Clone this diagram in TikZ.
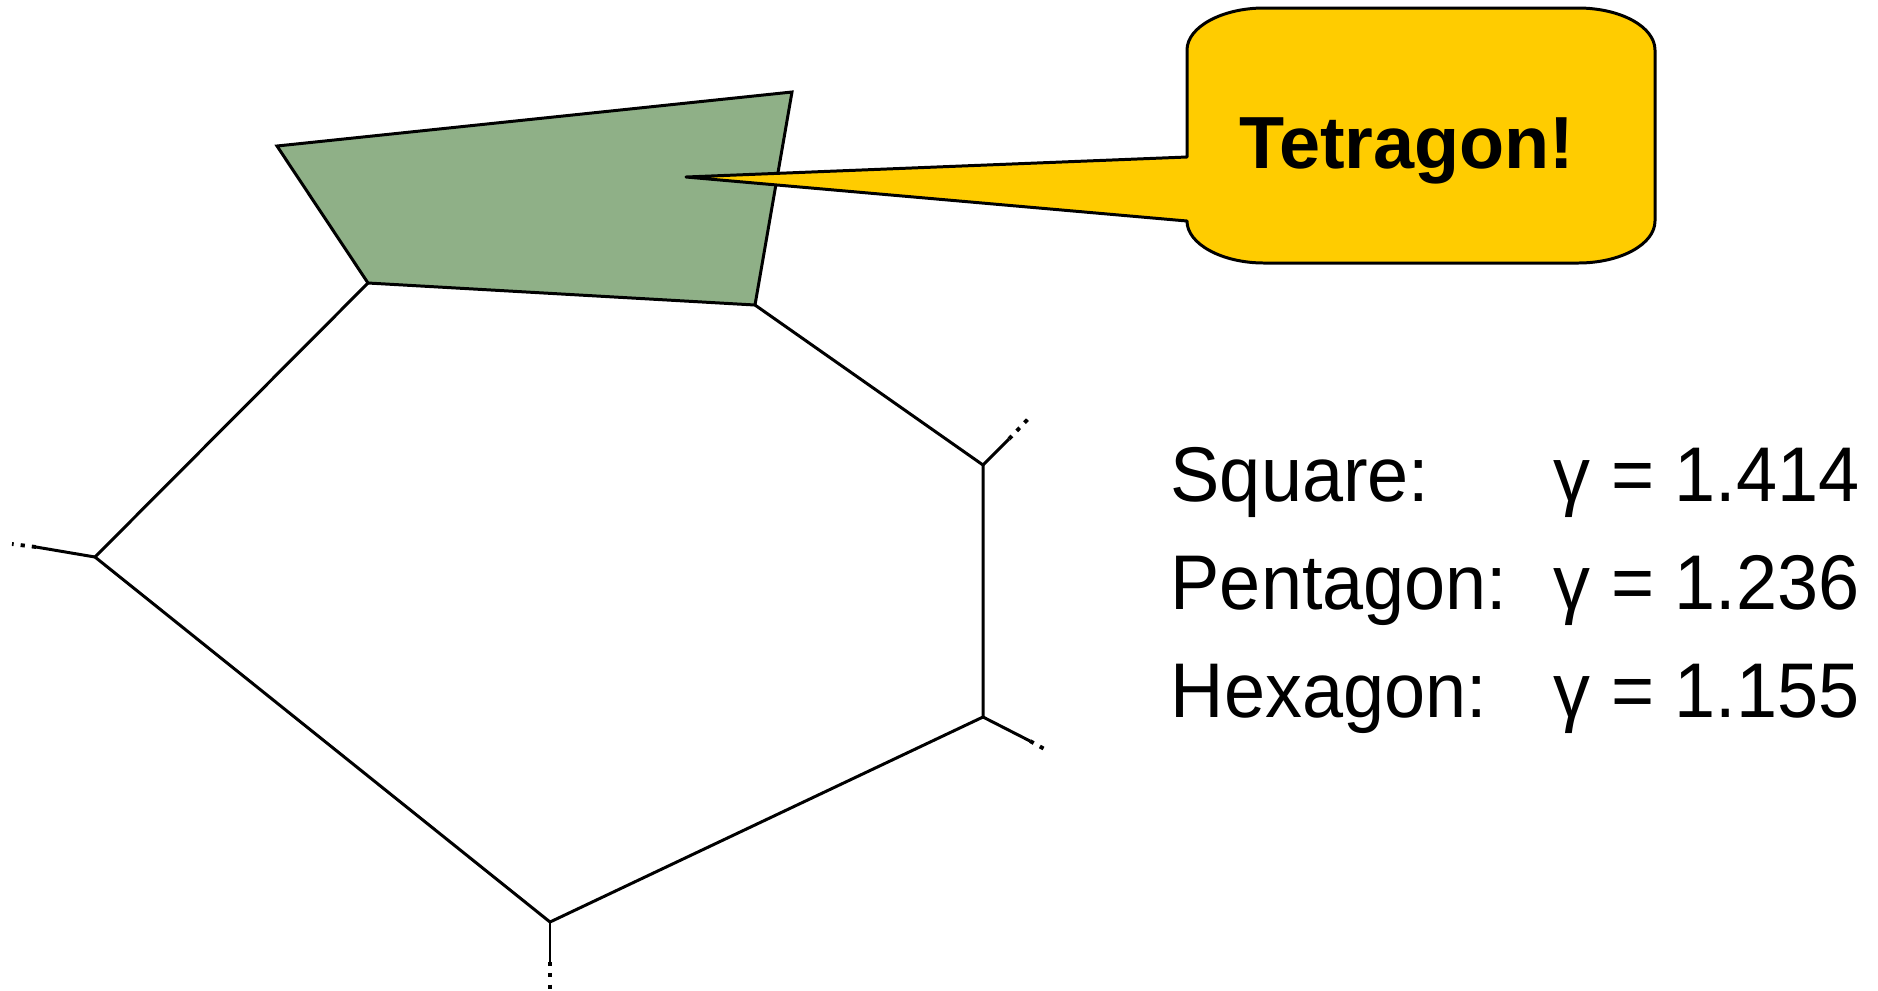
\documentclass[tikz,border=0pt]{standalone}
\usepackage{fontspec}
\setmainfont{Liberation Sans}
\definecolor{tetgreen}{RGB}{143,176,135}
\definecolor{calloutyellow}{RGB}{255,204,0}
\begin{document}
\begin{tikzpicture}[x=0.01cm,y=-0.01cm,
  edge/.style={line width=0.85pt,line join=miter},
  stubdots/.style={line width=1.1pt,dash pattern=on 1.2pt off 2pt},
  label/.style={font=\fontsize{21}{25}\selectfont,inner sep=0pt,anchor=base west,yscale=1.05},
  ]
\useasboundingbox (0,0) rectangle (1878,990);
% vertices
\coordinate (A) at (277,146);
\coordinate (B) at (792,92);
\coordinate (C) at (755,305);
\coordinate (D) at (368,283);
\coordinate (E) at (95,557);
\coordinate (F) at (550,922);
\coordinate (G) at (983,717);
\coordinate (H) at (983,465);
% stub points
\coordinate (Es) at (36,547);  \coordinate (Ee) at (12,544);
\coordinate (Hs) at (1009,439); \coordinate (He) at (1028,419);
\coordinate (Gs) at (1030,741); \coordinate (Ge) at (1048,751);
\coordinate (Fs) at (550,962); \coordinate (Fe) at (550,990);
% tetragon
\filldraw[edge,fill=tetgreen] (A) -- (B) -- (C) -- (D) -- cycle;
% hexagon outline
\draw[edge] (D) -- (E) -- (F) -- (G) -- (H) -- (C);
% stubs
\draw[edge] (E) -- (Es); \draw[stubdots] (Es) -- (Ee);
\draw[edge] (H) -- (Hs); \draw[stubdots] (Hs) -- (He);
\draw[edge] (G) -- (Gs); \draw[stubdots] (Gs) -- (Ge);
\draw[edge] (F) -- (Fs); \draw[stubdots] (Fs) -- (Fe);
% callout
\coordinate (tip) at (686,177);
\filldraw[edge,fill=calloutyellow,line join=round]
  (1187,157) -- (1187,50)
  .. controls (1187,27) and (1222,8) .. (1264,8)
  -- (1578,8)
  .. controls (1621,8) and (1655,27) .. (1655,50)
  -- (1655,221)
  .. controls (1655,244) and (1621,263) .. (1578,263)
  -- (1264,263)
  .. controls (1222,263) and (1187,244) .. (1187,221)
  -- (tip) -- cycle;
\node[font=\fontsize{21}{25}\selectfont\bfseries,inner sep=0pt,anchor=base] (tet) at (1407,168) {Tetragon!};
% labels
\node[label] (sq) at (1170,501) {Square:};
\node[label] (pe) at (1170,609) {Pentagon:};
\node[label] (hx) at (1170,717) {Hexagon:};
\node[label] (sqv) at (1553,501) {γ = 1.414};
\node[label] (pev) at (1553,609) {γ = 1.236};
\node[label] (hxv) at (1553,717) {γ = 1.155};
\end{tikzpicture}
\end{document}
